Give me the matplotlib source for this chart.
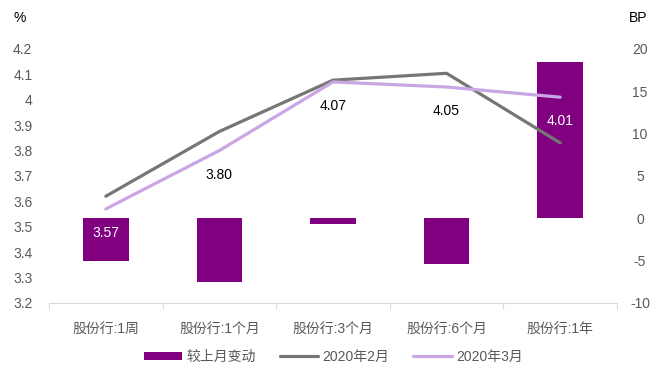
import matplotlib
matplotlib.use("Agg")
import matplotlib.pyplot as plt
import numpy as np
from matplotlib.ticker import FixedLocator

plt.rcParams['font.family'] = ['Liberation Sans', 'Noto Sans CJK SC', 'DejaVu Sans']
plt.rcParams['axes.unicode_minus'] = False

categories = ["股份行:1周", "股份行:1个月", "股份行:3个月", "股份行:6个月", "股份行:1年"]
rate_feb = [3.62, 3.875, 4.077, 4.104, 3.83]
rate_mar = [3.57, 3.80, 4.07, 4.05, 4.01]
change_bp = [-5.0, -7.5, -0.7, -5.4, 18.4]
left_ticks = [3.2, 3.3, 3.4, 3.5, 3.6, 3.7, 3.8, 3.9, 4.0, 4.1, 4.2]
left_tick_labels = ["3.2", "3.3", "3.4", "3.5", "3.6", "3.7", "3.8", "3.9", "4", "4.1", "4.2"]
right_ticks = [-10, -5, 0, 5, 10, 15, 20]
label_colors = ["white", "black", "black", "black", "white"]

bar_color = "#800080"
feb_color = "#767676"
mar_color = "#C9A6E4"
tick_color = "#595959"

fig = plt.figure(figsize=(6.56, 3.65), dpi=100)
ax = fig.add_axes([0.0747, 0.170, 0.8658, 0.696])
ax2 = ax.twinx()

x = np.arange(len(categories))

# bars on the BP axis (drawn first, behind lines)
ax2.bar(x, change_bp, width=0.4, color=bar_color, label="较上月变动", zorder=1)
ax2.set_ylim(-10, 20)
ax2.set_yticks(right_ticks)
ax2.set_yticklabels([str(t) for t in right_ticks])

# lines on the % axis
ax.set_zorder(ax2.get_zorder() + 1)
ax.patch.set_visible(False)
ax.plot(x, rate_feb, color=feb_color, lw=2.3, label="2020年2月", solid_capstyle='round')
ax.plot(x, rate_mar, color=mar_color, lw=2.3, label="2020年3月", solid_capstyle='round')
for xi, v, c in zip(x, rate_mar, label_colors):
    ax.annotate(f"{v:.2f}", (xi, v), xytext=(0, -17.5), textcoords="offset points",
                ha="center", va="center", fontsize=10, color=c)

ax.set_ylim(3.2, 4.2)
ax.set_xlim(-0.5, len(categories) - 0.5)
ax.set_yticks(left_ticks)
ax.set_yticklabels(left_tick_labels)
ax.set_xticks(x)
ax.set_xticklabels(categories)
ax.xaxis.set_minor_locator(FixedLocator(np.arange(-0.5, len(categories), 1.0)))

for a in (ax, ax2):
    for s in a.spines.values():
        s.set_visible(False)
ax.spines['bottom'].set_visible(True)
ax.spines['bottom'].set_color("#d9d9d9")

ax.tick_params(axis='y', length=0, pad=12, labelsize=10, labelcolor=tick_color)
ax.tick_params(axis='x', which='major', length=0, pad=14, labelsize=10, labelcolor=tick_color)
ax.tick_params(axis='x', which='minor', length=4, color="#d9d9d9", width=0.8)
ax2.tick_params(axis='y', length=0, pad=16.5, labelsize=10, labelcolor=tick_color)
for t in ax2.get_yticklabels():
    t.set_horizontalalignment('center')

fig.text(0.030, 0.950, "%", fontsize=10, color="black", ha="center", va="center")
fig.text(0.972, 0.950, "BP", fontsize=10, color="black", ha="center", va="center")

h1, l1 = ax2.get_legend_handles_labels()
h2, l2 = ax.get_legend_handles_labels()
fig.legend(h1 + h2, l1 + l2, loc="center", bbox_to_anchor=(0.508, 0.022), ncol=3,
           frameon=False, fontsize=10, handlelength=2.8, handleheight=0.6,
           columnspacing=1.7, handletextpad=0.3, labelcolor=tick_color)

fig.savefig("out.png", dpi=100)
